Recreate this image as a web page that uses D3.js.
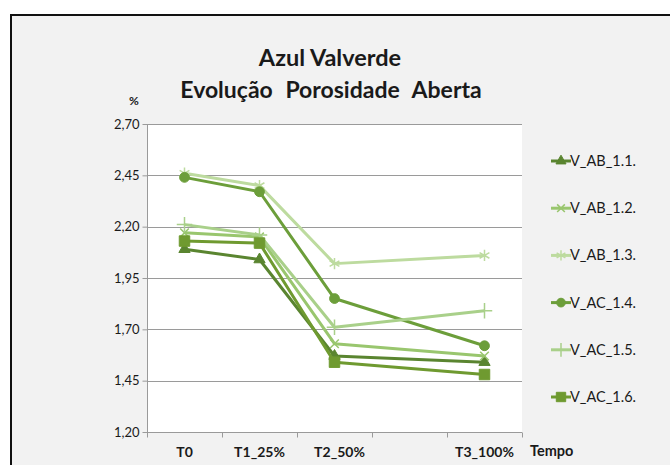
<!DOCTYPE html>
<html>
<head>
<meta charset="utf-8">
<script src="https://cdn.jsdelivr.net/npm/d3@7"></script>
<style>
  html, body { margin: 0; padding: 0; background: #ffffff; }
  svg { display: block; }
  text { font-family: Lato, "Open Sans", sans-serif; fill: #1a1a1a; }
</style>
</head>
<body>
<svg id="chart" width="670" height="465"></svg>
<script>
// Sampling moments and their position along the time axis
const timeLabels = ["T0", "T1_25%", "T2_50%", "T3_100%"];
const timeX = [0.5, 1.5, 2.5, 4.5];

// Open porosity (%) per specimen
const seriesNames = ["V_AB_1.1.", "V_AB_1.2.", "V_AB_1.3.", "V_AC_1.4.", "V_AC_1.5.", "V_AC_1.6."];
const vAB11 = [2.09, 2.04, 1.57, 1.54];
const vAB12 = [2.17, 2.15, 1.63, 1.57];
const vAB13 = [2.46, 2.40, 2.02, 2.06];
const vAC14 = [2.44, 2.37, 1.85, 1.62];
const vAC15 = [2.21, 2.16, 1.71, 1.79];
const vAC16 = [2.13, 2.12, 1.54, 1.48];
const seriesValues = [vAB11, vAB12, vAB13, vAC14, vAC15, vAC16];

// Axis ticks
const yTicks = [1.20, 1.45, 1.70, 1.95, 2.20, 2.45, 2.70];
const xTicks = [0, 1, 2, 3, 4, 5];

const colors = ["#5a8530", "#99c66e", "#bddb9f", "#6c9e3a", "#a9d08a", "#6f9a30"];
const symbols = [d3.symbolTriangle, d3.symbolTimes, d3.symbolAsterisk, d3.symbolCircle, d3.symbolPlus, d3.symbolSquare];
const symbolSizes = [55, 50, 90, 75, 80, 110];
const filled = [true, false, false, true, false, true];

const svg = d3.select("#chart");

// Chart area frame
svg.append("rect")
  .attr("x", 11).attr("y", 15)
  .attr("width", 680).attr("height", 480)
  .attr("fill", "#f2f2f2")
  .attr("stroke", "#111").attr("stroke-width", 2);

const plot = { left: 147, right: 522, top: 124, bottom: 432 };

const x = d3.scaleLinear().domain([0, 5]).range([plot.left, plot.right]);
const y = d3.scaleLinear().domain([1.20, 2.70]).range([plot.bottom, plot.top]);

// Plot area
svg.append("rect")
  .attr("x", plot.left).attr("y", plot.top)
  .attr("width", plot.right - plot.left).attr("height", plot.bottom - plot.top)
  .attr("fill", "#ffffff");

// Horizontal gridlines
svg.append("g")
  .selectAll("line")
  .data(yTicks.slice(1))
  .join("line")
  .attr("x1", plot.left).attr("x2", plot.right)
  .attr("y1", d => Math.round(y(d)) + 0.5).attr("y2", d => Math.round(y(d)) + 0.5)
  .attr("stroke", "#9a9a9a").attr("stroke-width", 1);

// Y axis
const yAxis = svg.append("g")
  .attr("transform", `translate(${plot.left + 0.5},0)`)
  .call(d3.axisLeft(y).tickValues(yTicks).tickSize(5).tickPadding(3)
    .tickFormat(d => d3.format(".2f")(d).replace(".", ",")));
yAxis.select(".domain").attr("stroke", "#9a9a9a").attr("d", `M0,${plot.top}V${plot.bottom}`);
yAxis.selectAll(".tick line").attr("stroke", "#9a9a9a");
yAxis.selectAll(".tick text").attr("font-size", 13).attr("fill", "#1a1a1a")
  .style("font-family", "Lato, 'Open Sans', sans-serif");

// X axis
const xAxis = svg.append("g")
  .attr("transform", `translate(0,${plot.bottom + 0.5})`)
  .call(d3.axisBottom(x).tickValues(xTicks).tickSize(5).tickFormat(""));
xAxis.select(".domain").attr("stroke", "#9a9a9a").attr("d", `M${plot.left},0H${plot.right}`);
xAxis.selectAll(".tick line").attr("stroke", "#9a9a9a");

// Time labels under the axis
svg.append("g")
  .selectAll("text")
  .data(timeLabels)
  .join("text")
  .attr("x", (d, i) => x(timeX[i]) + (i === 2 ? 5 : 0))
  .attr("y", 457)
  .attr("text-anchor", "middle")
  .attr("font-size", 14).attr("font-weight", "bold")
  .text(d => d);

svg.append("text")
  .attr("x", 530).attr("y", 456)
  .attr("font-size", 14.5).attr("font-weight", "bold")
  .text("Tempo");

// Unit label
svg.append("text")
  .attr("x", 134).attr("y", 105)
  .attr("text-anchor", "middle")
  .attr("font-size", 12).attr("font-weight", "bold")
  .text("%");

// Title
svg.append("text")
  .attr("x", 330).attr("y", 66)
  .attr("text-anchor", "middle")
  .attr("font-size", 23.5).attr("font-weight", "bold")
  .text("Azul Valverde");
svg.append("text")
  .attr("x", 331).attr("y", 98)
  .attr("text-anchor", "middle")
  .attr("font-size", 23).attr("font-weight", "bold")
  .attr("word-spacing", 7)
  .text("Evolução Porosidade Aberta");

// Series lines and markers
const line = d3.line()
  .x((d, i) => x(timeX[i]))
  .y(d => y(d));

seriesValues.forEach((vals, s) => {
  const g = svg.append("g");
  g.append("path")
    .datum(vals)
    .attr("d", line)
    .attr("fill", "none")
    .attr("stroke", colors[s])
    .attr("stroke-width", 3)
    .attr("stroke-linejoin", "round");
  g.selectAll("path.marker")
    .data(vals)
    .join("path")
    .attr("class", "marker")
    .attr("transform", (d, i) => `translate(${x(timeX[i])},${y(d)})`)
    .attr("d", d3.symbol().type(symbols[s]).size(symbolSizes[s]))
    .attr("fill", filled[s] ? colors[s] : "none")
    .attr("stroke", colors[s])
    .attr("stroke-width", filled[s] ? 1 : 1.5);
});

// Legend
const legend = svg.append("g");
seriesNames.forEach((name, s) => {
  const ly = 161 + s * 47.2;
  const g = legend.append("g").attr("transform", `translate(0,${ly})`);
  g.append("line")
    .attr("x1", 551).attr("x2", 571)
    .attr("y1", 0).attr("y2", 0)
    .attr("stroke", colors[s]).attr("stroke-width", 3);
  g.append("path")
    .attr("transform", "translate(561,0)")
    .attr("d", d3.symbol().type(symbols[s]).size(symbolSizes[s] * 0.8))
    .attr("fill", filled[s] ? colors[s] : "none")
    .attr("stroke", colors[s])
    .attr("stroke-width", filled[s] ? 1 : 1.5);
  g.append("text")
    .attr("x", 570).attr("y", 5)
    .attr("font-size", 14.5)
    .text(name);
});
</script>
</body>
</html>
